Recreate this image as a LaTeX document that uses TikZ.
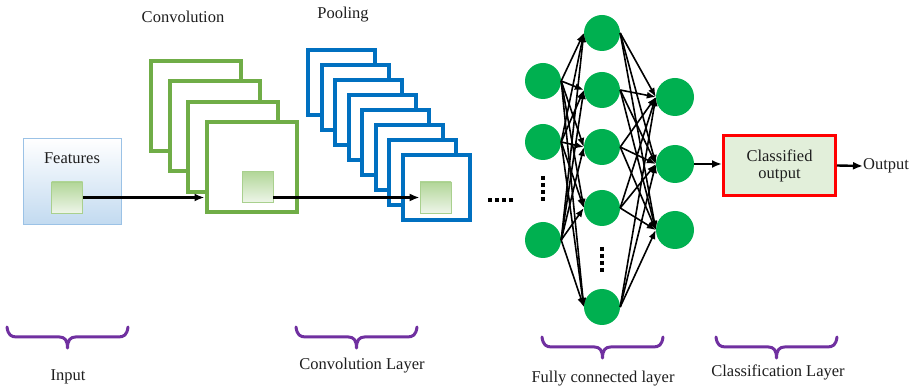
\documentclass[tikz,border=0pt]{standalone}
\usepackage{fontspec}
\setmainfont{Liberation Serif}
\usetikzlibrary{arrows.meta}

\definecolor{convgreen}{RGB}{112,173,71}
\definecolor{poolblue}{RGB}{0,112,192}
\definecolor{neurongreen}{RGB}{0,176,80}
\definecolor{bracepurple}{RGB}{112,48,160}
\definecolor{boxfill}{RGB}{226,239,218}
\definecolor{inputedge}{RGB}{155,194,230}
\definecolor{inputfill}{RGB}{194,218,240}
\definecolor{patchtop}{RGB}{178,214,152}
\definecolor{patchedge}{RGB}{169,208,142}
\definecolor{txt}{RGB}{30,30,30}

\tikzset{
  lbl/.style={text=txt, font=\fontsize{16.5}{18}\selectfont, inner sep=0pt},
  convframe/.style={rectangle, draw=convgreen, line width=4pt, fill=white,
    minimum width=90pt, minimum height=90pt, inner sep=0pt},
  poolframe/.style={rectangle, draw=poolblue, line width=4pt, fill=white,
    minimum width=67pt, minimum height=65pt, inner sep=0pt},
  patch/.style={rectangle, draw=patchedge, line width=0.8pt,
    top color=patchtop, bottom color=boxfill!60!white,
    minimum width=31pt, minimum height=31pt, inner sep=0pt},
  neuron/.style={circle, fill=neurongreen, minimum size=36pt, inner sep=0pt},
  bigneuron/.style={neuron, minimum size=38pt},
  link/.style={line width=1.6pt, -{Latex[length=9pt,width=7pt]}},
  flow/.style={line width=2.4pt, -{Latex[length=10pt,width=8pt]}},
  dots/.style={line width=3.4pt, dash pattern=on 4pt off 3pt},
  bracestroke/.style={draw=bracepurple, line width=3pt, line cap=round,
    line join=round},
  % curly brace 121 units wide, opening upwards, tip pointing down
  pics/layerbrace/.style={code={
    \draw[bracestroke] (0,0) .. controls +(1,8) and +(-6,0) .. ++(10,10)
      -- ++(42.5,0) .. controls +(5,0) and +(0,-8) .. ++(8,11)
      .. controls +(0,-8) and +(-5,0) .. ++(8,-11)
      -- ++(42.5,0) .. controls +(6,0) and +(-1,8) .. ++(10,-10);
  }},
}

\begin{document}
\begin{tikzpicture}[x=1pt, y=-1pt]
\path[use as bounding box, fill=white] (0,0) rectangle (916,387);

% input feature map
\node[rectangle, draw=inputedge, line width=1.8pt, top color=white,
  bottom color=inputfill, minimum width=98pt, minimum height=86pt]
  (inp) at (72.5,181.5) {};
\node[lbl] (feat) at (72,158) {Features};
\node[patch] (fs) at (67,197.5) {};

% convolution feature maps
\node[lbl] (convt) at (183,17) {Convolution};
\foreach \i in {0,...,3}
  \node[convframe] (c\i) at ({196+18.5*\i},{106+20.4*\i}) {};
\node[patch] (cs) at (257.5,187) {};

% pooling feature maps
\node[lbl] (poolt) at (343,15) {Pooling};
\foreach \i in {0,...,7}
  \node[poolframe] (p\i) at ({341.5+13.57*\i},{82.5+15*\i}) {};
\node[patch] (ps) at (435.5,197.5) {};

\draw[flow] (fs.east) -- (fs.east -| c3.west);
\draw[flow] (cs.east |- ps.west) -- (ps.west);

% continuation dots
\coordinate (hd0) at (488,200);
\coordinate (hd1) at (515,200);
\draw[dots] (hd0) -- (hd1);

% fully connected layers
\foreach \n/\y in {a/81,b/142,c/240}
  \node[neuron] (l1\n) at (543,\y) {};
\foreach \n/\y in {a/33,b/90,c/147,d/208,e/307}
  \node[neuron] (l2\n) at (602,\y) {};
\foreach \n/\y in {a/97,b/164,c/230}
  \node[bigneuron] (l3\n) at (675,\y) {};

\coordinate (vd0) at (543,176);
\coordinate (vd1) at (543,202);
\draw[dots] (vd0) -- (vd1);
\coordinate (vd2) at (602,247);
\coordinate (vd3) at (602,273);
\draw[dots] (vd2) -- (vd3);

\foreach \s in {a,b,c}
  \foreach \t in {a,b,c,d,e}
    \draw[link] (l1\s.east) -- (l2\t.west);
\foreach \s in {a,b,c,d,e}
  \foreach \t in {a,b,c}
    \draw[link] (l2\s.east) -- (l3\t.west);

% classification
\node[rectangle, draw=red, line width=3pt, fill=boxfill,
  minimum width=112pt, minimum height=60pt, align=center,
  text=txt, font=\fontsize{16.5}{18}\selectfont] (cls) at (779.5,165.5)
  {Classified\\[-1pt]output};
\draw[flow] (l3b.east) -- (l3b.east -| cls.west);
\node[lbl, anchor=west] (out) at (863,166) {Output};
\draw[flow] (cls.east) -- (out.west);

% layer braces and captions
\pic (br0) at (7,327) {layerbrace};
\pic (br1) at (296,327) {layerbrace};
\pic (br2) at (542,337) {layerbrace};
\pic (br3) at (716,337) {layerbrace};

\node[lbl] (capin) at (68,377) {Input};
\node[lbl] (capconv) at (362,366) {Convolution Layer};
\node[lbl] (capfc) at (603,379) {Fully connected layer};
\node[lbl] (capcls) at (778,372) {Classification Layer};
\end{tikzpicture}
\end{document}
